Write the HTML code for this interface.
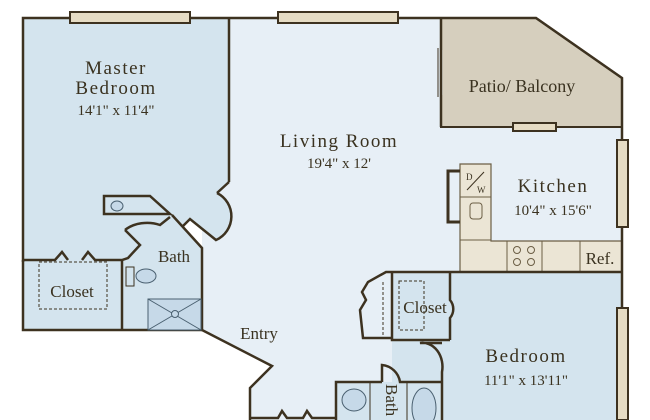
<!DOCTYPE html>
<html><head><meta charset="utf-8"><style>
html,body{margin:0;padding:0;background:#fff;}
svg{display:block}
text{font-family:"Liberation Serif",serif;fill:#3a3220}
</style></head><body>
<svg width="650" height="420" viewBox="0 0 650 420" xmlns="http://www.w3.org/2000/svg">
<!-- living room base -->
<polygon points="229,18 441,18 441,127 622,127 622,420 250,420 250,388 272,366 202,330 202,200 229,182" fill="#e7eff6"/>
<!-- master bedroom -->
<path d="M23,18 L229,18 L229,182 L217,193 A26,26 0 0 1 216,240 L190,219 L182,227 L172,215 L202,248 L202,330 L23,330 Z" fill="#d4e4ee"/>
<!-- patio -->
<polygon points="441,18 536,18 622,78 622,127 441,127" fill="#d6cfbe" stroke="#3d3220" stroke-width="2"/>
<rect x="513" y="123" width="43" height="8" fill="#e6dcc4" stroke="#3d3220" stroke-width="2"/>
<line x1="441" y1="50" x2="441" y2="95" stroke="#e7eff6" stroke-width="3"/>
<line x1="438" y1="48" x2="438" y2="97" stroke="#3d3220" stroke-width="1"/>
<!-- bedroom -->
<rect x="392" y="272" width="230" height="148" fill="#d4e4ee"/>
<polygon points="336,382 442,382 442,420 336,420" fill="#d4e4ee"/>
<!-- kitchen counter -->
<polygon points="460,164 491,164 491,241 622,241 622,272 460,272" fill="#ebe5d5" stroke="#6b5e45" stroke-width="1.2"/>
<line x1="460" y1="197" x2="491" y2="197" stroke="#6b5e45"/>
<line x1="460" y1="240" x2="491" y2="240" stroke="#6b5e45"/>
<line x1="507" y1="241" x2="507" y2="272" stroke="#6b5e45"/>
<line x1="542" y1="241" x2="542" y2="272" stroke="#6b5e45"/>
<line x1="580" y1="241" x2="580" y2="272" stroke="#6b5e45"/>
<rect x="470" y="203" width="12" height="16" rx="3" fill="none" stroke="#6b5e45"/>
<g fill="none" stroke="#6b5e45"><circle cx="517" cy="250" r="3.5"/><circle cx="531" cy="250" r="3.5"/><circle cx="517" cy="262" r="3.5"/><circle cx="531" cy="262" r="3.5"/></g>
<line x1="467" y1="190" x2="484" y2="172" stroke="#3d3220"/>
<text x="466" y="180" font-size="9">D</text><text x="477" y="193" font-size="9">W</text>
<polyline points="460,171 448,171 448,222 460,222" fill="none" stroke="#3d3220" stroke-width="3"/>
<!-- walls -->
<g fill="none" stroke="#3d3220" stroke-width="2.5" stroke-linejoin="miter">
<polyline points="23,262 23,18 536,18 622,78 622,420"/>
<line x1="229" y1="18" x2="229" y2="182"/>
<polyline points="229,182 217,193"/>
<path d="M217,193 A26,26 0 0 1 216,240 L190,219 L182,227"/>
<polyline points="172,215 202,248 202,330 272,366 250,388 250,420"/>
<polyline points="23,260 23,330 202,330"/>
<line x1="122" y1="260" x2="122" y2="330"/>
<polyline points="23,260 55,260 62,252 68,260"/>
<polyline points="82,260 88,252 95,260 122,260 128,258 140,245 125,230"/>
<path d="M125,230 A30,22 0 0 1 160,225 L170,217"/>
<polygon points="104,196 150,196 170,214 104,214" fill="#d4e4ee"/>
<line x1="441" y1="18" x2="441" y2="127"/>
<polyline points="392,272 622,272"/>
<polyline points="392,272 392,340 450,340"/>
<path d="M450,290 L450,300 A14,14 0 0 1 450,318 L450,340"/>
<line x1="450" y1="272" x2="450" y2="290"/>
<polyline points="392,272 386,272 368,282 362,292 366,300 360,310 363,338 392,338"/>
<path d="M442,343 L420,343 A20,24 0 0 1 442,372 L442,420"/>
<polyline points="336,420 336,382 382,382"/>
<path d="M382,382 L382,365 A20,20 0 0 1 400,382 L442,382"/>
<polyline points="250,418 278,418 282,411 287,418 303,418 307,411 312,418 336,418"/>
</g>
<g stroke="#3d3220" stroke-width="1" fill="none">
<line x1="370" y1="382" x2="370" y2="420"/><line x1="407" y1="382" x2="407" y2="420"/>
<ellipse cx="354" cy="400" rx="12" ry="11" fill="#c6d9e8" stroke="#4a6070"/>
<ellipse cx="424" cy="408" rx="12" ry="20" fill="#c6d9e8" stroke="#4a6070"/>
<line x1="383" y1="282" x2="383" y2="338" stroke-dasharray="3,2"/>
</g>
<!-- master bath fixtures -->
<g stroke="#4a6070" fill="#c6d9e8">
<ellipse cx="117" cy="206" rx="6" ry="5"/>
<rect x="126" y="267" width="8" height="19" fill="none" stroke="#3d3220"/>
<ellipse cx="146" cy="276" rx="10" ry="7"/>
<rect x="148" y="299" width="53" height="31" fill="#c6d9e8"/>
<line x1="148" y1="299" x2="201" y2="330"/><line x1="201" y1="299" x2="148" y2="330"/>
<circle cx="175" cy="314" r="3.5" fill="#c6d9e8"/>
</g>
<rect x="39" y="262" width="68" height="47" fill="none" stroke="#3d3220" stroke-dasharray="3,2"/>
<rect x="399" y="281" width="25" height="49" fill="none" stroke="#3d3220" stroke-dasharray="3,2"/>
<!-- windows -->
<g fill="#e6dcc4" stroke="#3d3220" stroke-width="2">
<rect x="70" y="12" width="120" height="11"/>
<rect x="278" y="12" width="120" height="11"/>
<rect x="617" y="140" width="11" height="87"/>
<rect x="617" y="308" width="11" height="112"/>
</g>
<!-- labels -->
<text x="116" y="74" font-size="19" text-anchor="middle" letter-spacing="1.5">Master</text>
<text x="116" y="94" font-size="19" text-anchor="middle" letter-spacing="1.5">Bedroom</text>
<text x="116" y="115" font-size="15" text-anchor="middle">14'1" x 11'4"</text>
<text x="339" y="147" font-size="19" text-anchor="middle" letter-spacing="1.5">Living Room</text>
<text x="339" y="168" font-size="15" text-anchor="middle">19'4" x 12'</text>
<text x="522" y="92" font-size="18" text-anchor="middle" font-family="Liberation Sans">Patio/ Balcony</text>
<text x="553" y="192" font-size="19" text-anchor="middle" letter-spacing="1.5">Kitchen</text>
<text x="553" y="215" font-size="15" text-anchor="middle">10'4" x 15'6"</text>
<text x="600" y="264" font-size="17" text-anchor="middle">Ref.</text>
<text x="174" y="262" font-size="17" text-anchor="middle">Bath</text>
<text x="72" y="297" font-size="17" text-anchor="middle">Closet</text>
<text x="259" y="339" font-size="17" text-anchor="middle">Entry</text>
<text x="425" y="313" font-size="17" text-anchor="middle">Closet</text>
<text x="526" y="362" font-size="19" text-anchor="middle" letter-spacing="1.5">Bedroom</text>
<text x="526" y="385" font-size="15" text-anchor="middle">11'1" x 13'11"</text>
<text x="386" y="384" font-size="17" transform="rotate(90 386 384)">Bath</text>
</svg>
</body></html>
